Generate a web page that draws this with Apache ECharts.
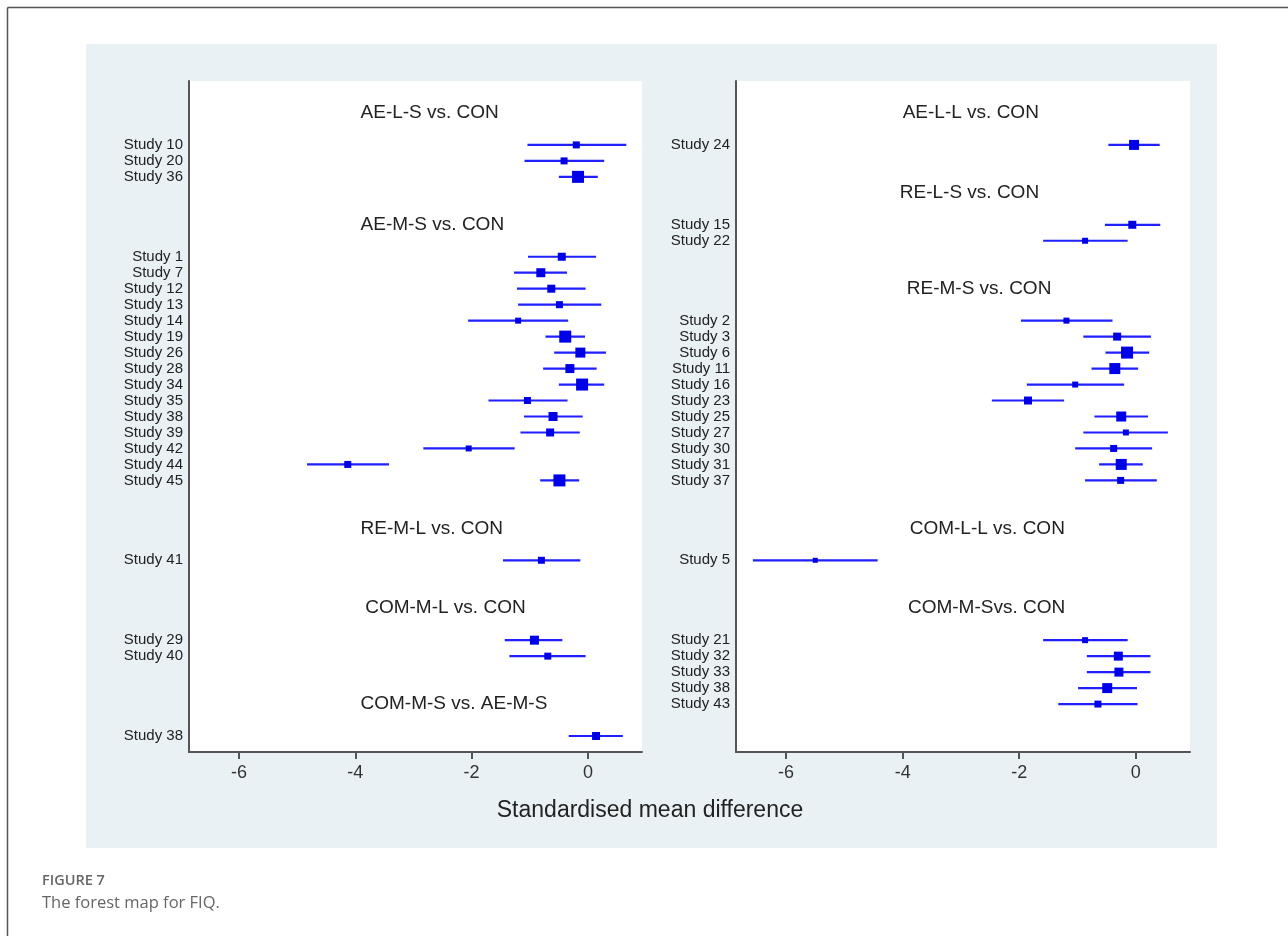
<!DOCTYPE html>
<html>
<head>
<meta charset="utf-8">
<style>
  html, body { margin: 0; padding: 0; background: #fff; }
  #chart { width: 1288px; height: 936px; }
</style>
<script src="https://cdn.jsdelivr.net/npm/echarts@6/dist/echarts.min.js"></script>
</head>
<body>
<div id="chart"></div>
<script>
// ---------- DATA ----------
var xTicks = [-6, -4, -2, 0];

// Left panel
var leftStudy  = ['Study 10','Study 20','Study 36',
  'Study 1','Study 7','Study 12','Study 13','Study 14','Study 19','Study 26','Study 28','Study 34','Study 35','Study 38','Study 39','Study 42','Study 44','Study 45',
  'Study 41','Study 29','Study 40','Study 38'];
var leftRow    = [3,4,5, 10,11,12,13,14,15,16,17,18,19,20,21,22,23,24, 29, 34,35, 40];
var leftEst    = [-0.20,-0.41,-0.17, -0.45,-0.81,-0.63,-0.49,-1.20,-0.39,-0.13,-0.31,-0.10,-1.04,-0.60,-0.65,-2.05,-4.13,-0.49, -0.80, -0.92,-0.69, 0.14];
var leftLow    = [-1.04,-1.09,-0.50, -1.03,-1.27,-1.22,-1.20,-2.06,-0.73,-0.58,-0.77,-0.50,-1.71,-1.10,-1.16,-2.83,-4.83,-0.82, -1.46, -1.43,-1.35, -0.33];
var leftHigh   = [0.66,0.28,0.17, 0.14,-0.36,-0.04,0.23,-0.34,-0.05,0.31,0.15,0.28,-0.35,-0.09,-0.14,-1.26,-3.42,-0.15, -0.13, -0.44,-0.04, 0.60];
var leftWeight = [7,7,12, 8,9,8,7,6,12,10,9,12,7,9,8,6,7,12, 7, 9,7, 8];
var leftHeaders    = ['AE-L-S vs. CON','AE-M-S vs. CON','RE-M-L vs. CON','COM-M-L vs. CON','COM-M-S vs. AE-M-S'];
var leftHeaderRow  = [1, 8, 27, 32, 38];
var leftHeaderX    = [-3.91, -3.91, -3.91, -3.83, -3.91];

// Right panel
var rightStudy  = ['Study 24',
  'Study 15','Study 22',
  'Study 2','Study 3','Study 6','Study 11','Study 16','Study 23','Study 25','Study 27','Study 30','Study 31','Study 37',
  'Study 5',
  'Study 21','Study 32','Study 33','Study 38','Study 43'];
var rightRow    = [3, 8,9, 14,15,16,17,18,19,20,21,22,23,24, 29, 34,35,36,37,38];
var rightEst    = [-0.03, -0.06,-0.87, -1.19,-0.32,-0.15,-0.36,-1.04,-1.85,-0.25,-0.17,-0.38,-0.25,-0.26, -5.50, -0.87,-0.30,-0.29,-0.49,-0.65];
var rightLow    = [-0.47, -0.53,-1.59, -1.97,-0.90,-0.52,-0.76,-1.87,-2.47,-0.71,-0.90,-1.04,-0.63,-0.87, -6.57, -1.59,-0.84,-0.84,-0.99,-1.33];
var rightHigh   = [0.41, 0.42,-0.14, -0.40,0.26,0.23,0.04,-0.20,-1.23,0.21,0.55,0.28,0.12,0.36, -4.43, -0.14,0.25,0.25,0.02,0.03];
var rightWeight = [10, 8,6, 6,8,12,11,6,8,10,6,7,11,7, 5, 6,9,9,10,7];
var rightHeaders   = ['AE-L-L vs. CON','RE-L-S vs. CON','RE-M-S vs. CON','COM-L-L vs. CON','COM-M-Svs. CON'];
var rightHeaderRow = [1, 6, 12, 27, 32];
var rightHeaderX   = [-4.00, -4.05, -3.93, -3.88, -3.91];

// ---------- BUILD ----------
function labelMap(rows, names) {
  var m = {};
  for (var i = 0; i < rows.length; i++) m[rows[i]] = names[i];
  return m;
}
var leftMap = labelMap(leftRow, leftStudy);
var rightMap = labelMap(rightRow, rightStudy);

function forestData(est, low, high, row, w) {
  return est.map(function (e, i) { return [e, low[i], high[i], row[i], w[i]]; });
}
function headerData(txt, row, x) {
  return txt.map(function (t, i) { return [x[i], row[i], t]; });
}

var lineColor = '#1f1fff';
var boxColor = '#0000e6';

function renderForest(params, api) {
  var est = api.value(0), lo = api.value(1), hi = api.value(2), row = api.value(3), w = api.value(4);
  var p0 = api.coord([lo, row]);
  var p1 = api.coord([hi, row]);
  var pc = api.coord([est, row]);
  return {
    type: 'group',
    children: [
      { type: 'line', shape: { x1: p0[0], y1: p0[1], x2: p1[0], y2: p1[1] },
        style: { stroke: lineColor, lineWidth: 2.2 } },
      { type: 'rect', shape: { x: pc[0] - w / 2, y: pc[1] - w / 2, width: w, height: w },
        style: { fill: boxColor } }
    ]
  };
}
function renderHeader(params, api) {
  var p = api.coord([api.value(0), api.value(1)]);
  return {
    type: 'text',
    x: p[0], y: p[1],
    style: {
      text: api.value(2),
      fill: '#222',
      font: '19px "Liberation Sans", Arial, sans-serif',
      textAlign: 'left',
      textVerticalAlign: 'middle'
    }
  };
}

function makeX(idx) {
  return {
    type: 'value', gridIndex: idx, min: -6.86, max: 0.93,
    axisLine: { show: true, onZero: false, lineStyle: { color: '#555', width: 2 } },
    axisTick: { show: true, customValues: xTicks, length: 7, lineStyle: { color: '#555', width: 2 } },
    axisLabel: { customValues: xTicks, color: '#333', fontSize: 18, margin: 12,
      fontFamily: '"Liberation Sans", Arial, sans-serif' },
    splitLine: { show: false }
  };
}
function makeY(idx, map) {
  return {
    type: 'value', gridIndex: idx, inverse: true, min: -1, max: 41, interval: 1,
    axisLine: { show: true, onZero: false, lineStyle: { color: '#555', width: 2 } },
    axisTick: { show: false },
    splitLine: { show: false },
    axisLabel: {
      color: '#222', fontSize: 15, margin: 6,
      fontFamily: '"Liberation Sans", Arial, sans-serif',
      formatter: function (v) { return map[Math.round(v)] || ''; }
    }
  };
}

var chart = echarts.init(document.getElementById('chart'), null, { renderer: 'canvas' });
chart.setOption({
  backgroundColor: '#ffffff',
  animation: false,
  graphic: [
    { type: 'rect', z: -100, shape: { x: 86, y: 44, width: 1131, height: 804 },
      style: { fill: '#eaf1f4' } },
    { type: 'line', z: -90, shape: { x1: 7.5, y1: 7.5, x2: 1288, y2: 7.5 },
      style: { stroke: '#555', lineWidth: 1.5 } },
    { type: 'line', z: -90, shape: { x1: 7.5, y1: 7.5, x2: 7.5, y2: 936 },
      style: { stroke: '#555', lineWidth: 1.5 } },
    { type: 'text', x: 650, y: 811, style: {
        text: 'Standardised mean difference', fill: '#222',
        font: '23px "Liberation Sans", Arial, sans-serif',
        textAlign: 'center', textVerticalAlign: 'middle' } },
    { type: 'text', x: 42, y: 881, style: {
        text: 'FIGURE 7', fill: '#666', textVerticalAlign: 'middle',
        font: '600 14.5px "Open Sans", sans-serif' } },
    { type: 'text', x: 42, y: 903, style: {
        text: 'The forest map for FIQ.', fill: '#666', textVerticalAlign: 'middle',
        font: '16.5px "Open Sans", sans-serif' } }
  ],
  grid: [
    { left: 189, top: 81, width: 453, height: 671, show: true, backgroundColor: '#fff', borderWidth: 0 },
    { left: 736, top: 81, width: 454, height: 671, show: true, backgroundColor: '#fff', borderWidth: 0 }
  ],
  xAxis: [makeX(0), makeX(1)],
  yAxis: [makeY(0, leftMap), makeY(1, rightMap)],
  series: [
    { type: 'custom', xAxisIndex: 0, yAxisIndex: 0, renderItem: renderForest,
      data: forestData(leftEst, leftLow, leftHigh, leftRow, leftWeight), clip: false },
    { type: 'custom', xAxisIndex: 1, yAxisIndex: 1, renderItem: renderForest,
      data: forestData(rightEst, rightLow, rightHigh, rightRow, rightWeight), clip: false },
    { type: 'custom', xAxisIndex: 0, yAxisIndex: 0, renderItem: renderHeader,
      data: headerData(leftHeaders, leftHeaderRow, leftHeaderX) },
    { type: 'custom', xAxisIndex: 1, yAxisIndex: 1, renderItem: renderHeader,
      data: headerData(rightHeaders, rightHeaderRow, rightHeaderX) }
  ]
});
</script>
</body>
</html>
